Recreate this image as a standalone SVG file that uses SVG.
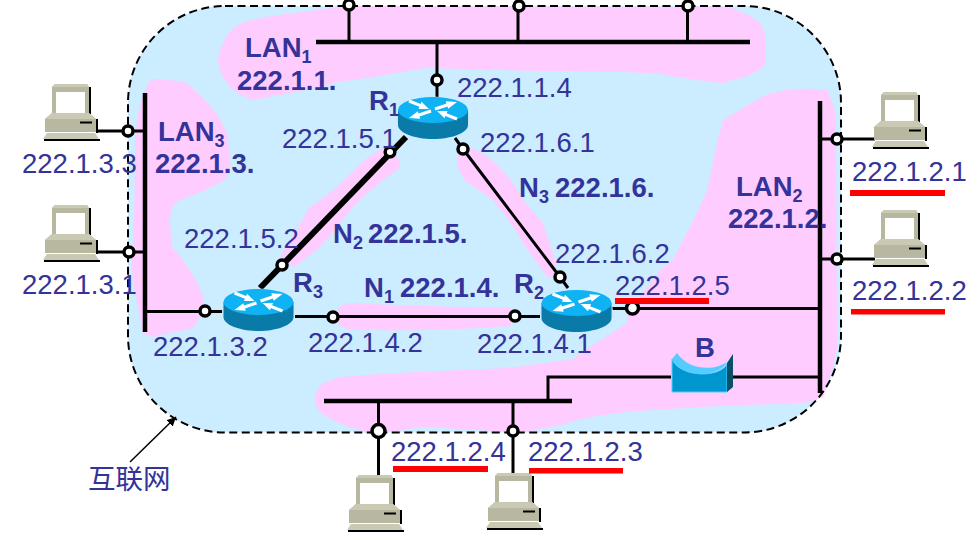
<svg xmlns="http://www.w3.org/2000/svg" width="978" height="540" viewBox="0 0 978 540">
<style>
.t{font-family:"Liberation Sans",Arial,sans-serif;font-size:27.5px;fill:#333399}
.b{font-weight:bold}
.s{font-size:18px}
.cn{font-family:"Noto Sans CJK SC",sans-serif;font-size:27.5px;fill:#333399}
.pink{fill:#FFCCFF}
.l{stroke:#000;stroke-width:3;fill:none}
.bus{stroke:#000;stroke-width:4.5;fill:none}
.c{fill:#fff;stroke:#000;stroke-width:3.5}
.red{fill:#FF0000}
</style>
<defs>
<g id="router">
<ellipse cx="0" cy="20" rx="36.500" ry="21.500" fill="#BFE8FF"/>
<path d="M-35 12V27C-35 35-18 41 0 41S35 35 35 27V12Z" fill="#0A7BA8"/>
<ellipse cx="0" cy="12" rx="35" ry="13" fill="#0FB2F2"/>
<g transform="translate(0 12)" fill="#fff">
<path d="M24 -8L12.800 -8.800L13.500 -6.500L1.500 -2.500L2.500 .5L14.500 -3.500L15.200 -1.200Z"/>
<path d="M-24 8L-12.800 8.800L-13.500 6.500L-1.500 2.500L-2.500 -.5L-14.500 3.500L-15.200 1.200Z"/>
<path d="M-4 -1L-11.500 -8.300L-12.400 -6L-23.400 -10.400L-24.600 -7.600L-13.600 -3.200L-14.500 -.9Z"/>
<path d="M4 1L11.500 8.300L12.400 6L23.400 10.400L24.600 7.600L13.600 3.200L14.500 .9Z"/>
</g>
</g>
<g id="pc">
<path d="M7 3L10 0H42L44 3V30H7Z" fill="#B8B8A0"/>
<path d="M7 3L10 0H42L44 3Z" fill="#C9C9B4"/>
<path d="M44 3H46V30H44Z" fill="#000"/>
<rect x="11" y="8" width="29" height="21" fill="#fff"/>
<path d="M0 35L7 29H44L51 35V48H0Z" fill="#B8B8A0"/>
<path d="M0 35L7 29H44L51 35Z" fill="#C9C9B4"/>
<path d="M51 35H53V49H51ZM35 37.500H47V39.500H35Z" fill="#000"/>
<path d="M2 49H50L54 55H-2Z" fill="#C9C9B4"/>
<path d="M-1 55H55V57H-1Z" fill="#000"/>
</g>
<marker id="ah" markerWidth="7" markerHeight="7" refX="6" refY="3" orient="auto"><path d="M0 0L6 3L0 6Z" fill="#000"/></marker>
</defs>

<g id="cloud">
<rect x="128" y="6" width="713" height="426.500" rx="97" ry="97" fill="#CCECFF"/>
<path class="pink" d="M218 60C222 38 232 26 245 22C270 14 310 12 347 6L680 7C705 6 728 6 735 9C748 14 758 20 763 27C767 40 766 52 765 65C755 75 740 78 722 83C700 80 680 78 660 74C620 71 580 71 545 71C500 70 460 69 425 68C395 73 370 78 337 82C320 88 290 93 253 100C235 94 220 82 218 60Z"/>
<path class="pink" d="M152 79C165 80 178 80 187 83C205 100 222 115 227 135C230 150 230 165 228 177C215 188 190 195 175 203C168 212 170 225 172 247C185 262 198 280 203 297C205 310 198 322 193 328C180 332 165 333 153 337C148 336 144 334 142 330C138 300 130 280 132 258C135 220 135 170 135 140C137 115 142 90 152 79Z"/>
<path class="pink" d="M387 147L400 160L400 168C385 178 370 190 353 207C340 222 330 238 317 250C305 258 298 265 293 267L280 258L290 240L310 207C330 195 350 175 365 160C375 152 382 148 387 147Z"/>
<path class="pink" d="M467 146C480 150 505 165 523 200L543 223L555 260L556 275L548 278L523 243C515 228 505 215 493 200C480 190 468 185 463 177C458 170 456 162 458 155C460 150 463 147 467 146Z"/>
<path class="pink" d="M723 120L760 98C775 90 800 87 827 90C832 100 835 110 836 120L837 347L833 368L823 397L810 402C785 404 740 405 700 407C670 409 640 410 610 414C590 417 575 420 560 425L530 431L507 432C480 430 450 428 420 427C405 430 390 432 370 432C355 430 340 424 327 417C318 412 314 405 315 398C316 390 320 385 326 382L340 377C400 372 460 370 510 368L573 359C592 345 610 335 627 323L628 310C640 295 650 285 660 270L673 260C685 235 697 215 707 190C713 165 717 140 723 120Z"/>
<path class="pink" d="M337 310C342 305 346 303 350 303C400 305 460 308 507 307L517 312L510 326L480 328C440 330 400 331 353 330C345 329 340 326 337 323Z"/>
<rect x="128" y="6" width="713" height="426.500" rx="97" ry="97" fill="none" stroke="#000" stroke-width="2" stroke-dasharray="8 4.500"/>
</g>

<g id="connectors">
<path class="bus" d="M316 42H750M145 93V332M820 101V393M324 401H572"/>
<path class="l" d="M349 42V5M518 42V6M687.500 42V6M437 42V98M145 131H97M145 252H97M145 311.500H222M820 139H875M820 259H875M603 308.500H820M295 316.500H540M548 401V377H671M733 377H820M378.500 401V476M513 401V473"/>
<path d="M406 137L260 288" stroke="#000" stroke-width="6" fill="none"/>
<path class="l" d="M455 138L463 149M463 149L560 277L568 288"/>
<path d="M130 462L176 417" stroke="#000" stroke-width="1.500" fill="none" marker-end="url(#ah)"/>
<circle class="c" cx="349" cy="5" r="5"/>
<circle class="c" cx="519" cy="6" r="5"/>
<circle class="c" cx="688" cy="6" r="5"/>
<circle class="c" cx="437" cy="80" r="5"/>
<circle class="c" cx="128" cy="131" r="5"/>
<circle class="c" cx="129" cy="252" r="5"/>
<circle class="c" cx="205" cy="311" r="5"/>
<circle class="c" cx="390" cy="152" r="4.800"/>
<circle class="c" cx="463" cy="149" r="5"/>
<circle class="c" cx="282" cy="265" r="5"/>
<circle class="c" cx="560" cy="277" r="5"/>
<circle class="c" cx="333" cy="317" r="5"/>
<circle class="c" cx="515" cy="316" r="5"/>
<circle class="c" cx="632.500" cy="308" r="6"/>
<circle class="c" cx="837" cy="139" r="5"/>
<circle class="c" cx="837" cy="259" r="5"/>
<circle class="c" cx="378.500" cy="431" r="6.500"/>
<circle class="c" cx="513" cy="431" r="5"/>
</g>

<g id="R1"><use href="#router" x="433" y="98"/><text class="t b" x="369" y="110">R<tspan class="s" dy="6">1</tspan></text></g>
<g id="R2"><use href="#router" x="576.500" y="291"/><text class="t b" x="514" y="293">R<tspan class="s" dy="6">2</tspan></text></g>
<g id="R3"><use href="#router" x="258.500" y="290"/><text class="t b" x="293" y="292">R<tspan class="s" dy="6">3</tspan></text></g>
<g id="B">
<path d="M672 359C680 378 720 378 727 364V392H672Z" fill="#0096D0" stroke="#55CCFF"/>
<path d="M672 359C680 378 720 378 727 362C716 370 690 372 677 353Z" fill="#55CCFF"/>
<path d="M727 363L733 354V387L727 392Z" fill="#0B4F66"/>
<text class="t b" x="695" y="357">B</text>
</g>

<g id="PC-1"><use href="#pc" x="45" y="84"/><text class="t" x="22" y="173">222.1.3.3</text></g>
<g id="PC-2"><use href="#pc" x="45" y="205"/><text class="t" x="22" y="294">222.1.3.1</text></g>
<g id="PC-3"><use href="#pc" x="874" y="92"/><text class="t" x="852" y="181">222.1.2.1</text><rect class="red" x="850" y="190" width="95" height="6"/></g>
<g id="PC-4"><use href="#pc" x="874" y="210"/><text class="t" x="852" y="300">222.1.2.2</text><rect class="red" x="851" y="309" width="94" height="5.500"/></g>
<g id="PC-5"><use href="#pc" x="349" y="475"/><text class="t" x="391" y="461">222.1.2.4</text><rect class="red" x="393" y="466" width="95" height="6"/></g>
<g id="PC-6"><use href="#pc" x="488" y="473"/><text class="t" x="528" y="461">222.1.2.3</text><rect class="red" x="529" y="468" width="94" height="5.500"/></g>

<g id="labels">
<text class="t b" x="245" y="57">LAN<tspan class="s" dy="6">1</tspan></text>
<text class="t b" x="237" y="90">222.1.1.</text>
<text class="t b" x="158" y="141">LAN<tspan class="s" dy="6">3</tspan></text>
<text class="t b" x="155" y="173">222.1.3.</text>
<text class="t b" x="736" y="196">LAN<tspan class="s" dy="6">2</tspan></text>
<text class="t b" x="728" y="228">222.1.2.</text>
<text class="t b" x="519" y="197">N<tspan class="s" dy="6">3</tspan></text>
<text class="t b" x="555" y="197">222.1.6.</text>
<text class="t b" x="333" y="243">N<tspan class="s" dy="6">2</tspan></text>
<text class="t b" x="368" y="243">222.1.5.</text>
<text class="t b" x="364" y="297">N<tspan class="s" dy="6">1</tspan></text>
<text class="t b" x="400" y="297">222.1.4.</text>
<text class="t" x="457" y="97">222.1.1.4</text>
<text class="t" x="282" y="148">222.1.5.1</text>
<text class="t" x="480" y="152">222.1.6.1</text>
<text class="t" x="184" y="248">222.1.5.2</text>
<text class="t" x="555" y="263">222.1.6.2</text>
<text class="t" x="615" y="295">222.1.2.5</text>
<rect class="red" x="615" y="298" width="94" height="6"/>
<text class="t" x="153" y="356">222.1.3.2</text>
<text class="t" x="308" y="352">222.1.4.2</text>
<text class="t" x="477" y="353">222.1.4.1</text>
<text class="cn" x="88" y="489">互联网</text>
</g>
</svg>
